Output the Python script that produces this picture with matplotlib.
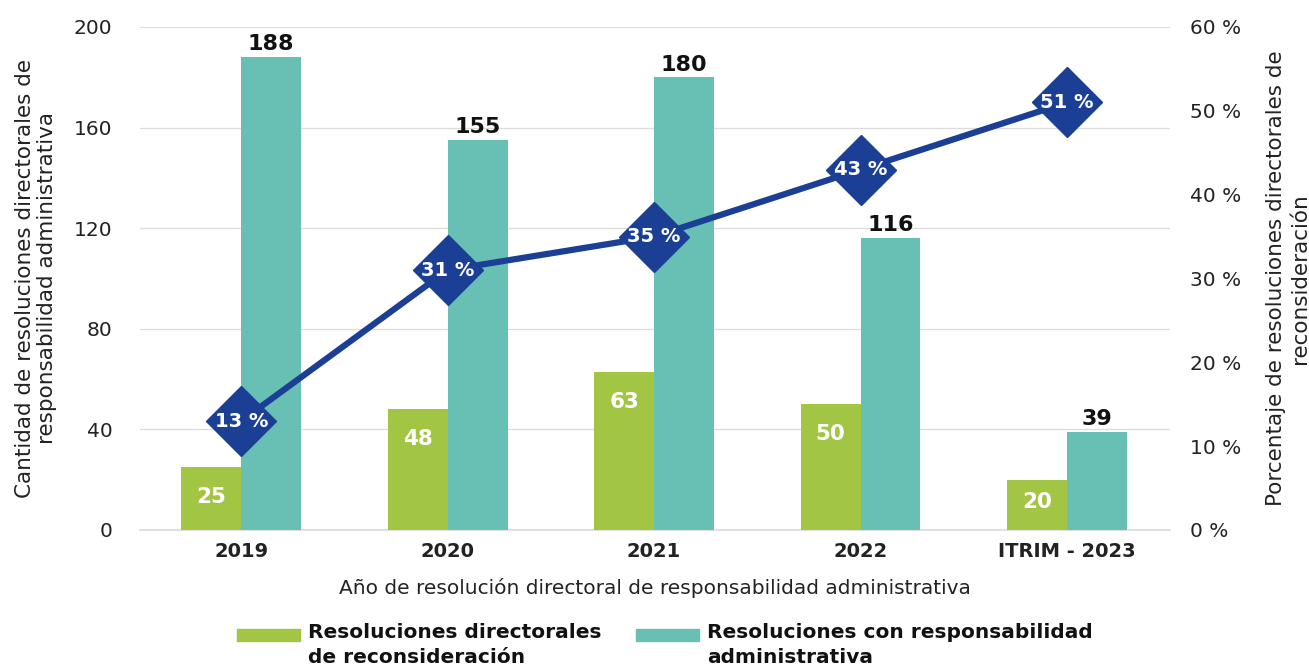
import numpy as np
import matplotlib.pyplot as plt
from matplotlib.patches import Rectangle

plt.rcParams['font.family'] = ['DejaVu Sans']

categorias = ["2019", "2020", "2021", "2022", "ITRIM - 2023"]
reconsideracion = [25, 48, 63, 50, 20]
responsabilidad = [188, 155, 180, 116, 39]
porcentaje = [13, 31, 35, 43, 51]

verde = "#a2c543"
turquesa = "#68c0b5"
azul = "#1b3f94"

fig = plt.figure(figsize=(13.09, 6.68), dpi=100)
ax = fig.add_axes([0.107, 0.2066, 0.787, 0.753])
ax2 = ax.twinx()

x = np.arange(len(categorias))
w = 0.29

b1 = ax.bar(x - w / 2, reconsideracion, w, color=verde, zorder=2)
b2 = ax.bar(x + w / 2, responsabilidad, w, color=turquesa, zorder=2)

ax.set_ylim(0, 200)
ax.set_xlim(-0.49, 4.5)
ax.set_yticks(range(0, 201, 40))
ax.grid(axis="y", color="#dcdcdc", linewidth=0.9, zorder=0)
ax.axhline(0, color="#dcdcdc", linewidth=1.2, zorder=0, clip_on=False)
ax.set_axisbelow(True)
for s in ax.spines.values():
    s.set_visible(False)
for s in ax2.spines.values():
    s.set_visible(False)
ax.tick_params(axis="both", length=0, labelsize=14.5, colors="#222222")
ax.tick_params(axis="y", pad=20)
ax.set_xticks(x)
ax.set_xticklabels(categorias, fontweight="bold", fontsize=14)
ax.tick_params(axis="x", pad=9)

ax.set_xlabel("Año de resolución directoral de responsabilidad administrativa",
              fontsize=14.5, labelpad=12, color="#222222")
ax.set_ylabel("Cantidad de resoluciones directorales de\nresponsabilidad administrativa",
              fontsize=15.5, labelpad=12, color="#222222", linespacing=1.15)

# etiquetas de barras
for rect, v in zip(b2, responsabilidad):
    ax.annotate(str(v), (rect.get_x() + rect.get_width() / 2, v),
                xytext=(0, 2), textcoords="offset points", ha="center", va="bottom",
                fontsize=16, fontweight="bold", color="#111111")
for rect, v in zip(b1, reconsideracion):
    ax.annotate(str(v), (rect.get_x() + rect.get_width() / 2, v),
                xytext=(0, -30 if v > 22 else -22), textcoords="offset pixels",
                ha="center", va="center", fontsize=15.5, fontweight="bold", color="white")

ax2.set_ylim(0, 60)
ax2.set_yticks(range(0, 61, 10))
ax2.set_yticklabels([f"{t} %" for t in range(0, 61, 10)])
ax2.tick_params(axis="y", length=0, labelsize=14.5, colors="#222222", pad=14)
ax2.set_ylabel("Porcentaje de resoluciones directorales de\nreconsideración",
               fontsize=15.5, labelpad=18, color="#222222", linespacing=1.25)

ax2.plot(x, porcentaje, color=azul, linewidth=4.5, marker="D", markersize=36,
         markerfacecolor=azul, markeredgecolor=azul, zorder=3)
for xi, p in zip(x, porcentaje):
    ax2.text(xi, p, f"{p} %", ha="center", va="center", color="white",
             fontsize=14, fontweight="bold", zorder=4)

# leyenda
legend_items = [
    (verde, "Resoluciones directorales\nde reconsideración", 237),
    (turquesa, "Resoluciones con responsabilidad\nadministrativa", 636),
]
for col, lab, px in legend_items:
    fig.patches.append(Rectangle((px / 1309, 1 - 641 / 668), 63 / 1309, 12 / 668,
                                 transform=fig.transFigure, color=col))
    fig.text((px + 71) / 1309, 1 - 623 / 668, lab, ha="left", va="top",
             fontsize=14.5, fontweight="bold", color="#111111", linespacing=1.4)

fig.savefig("out.png", dpi=100)
